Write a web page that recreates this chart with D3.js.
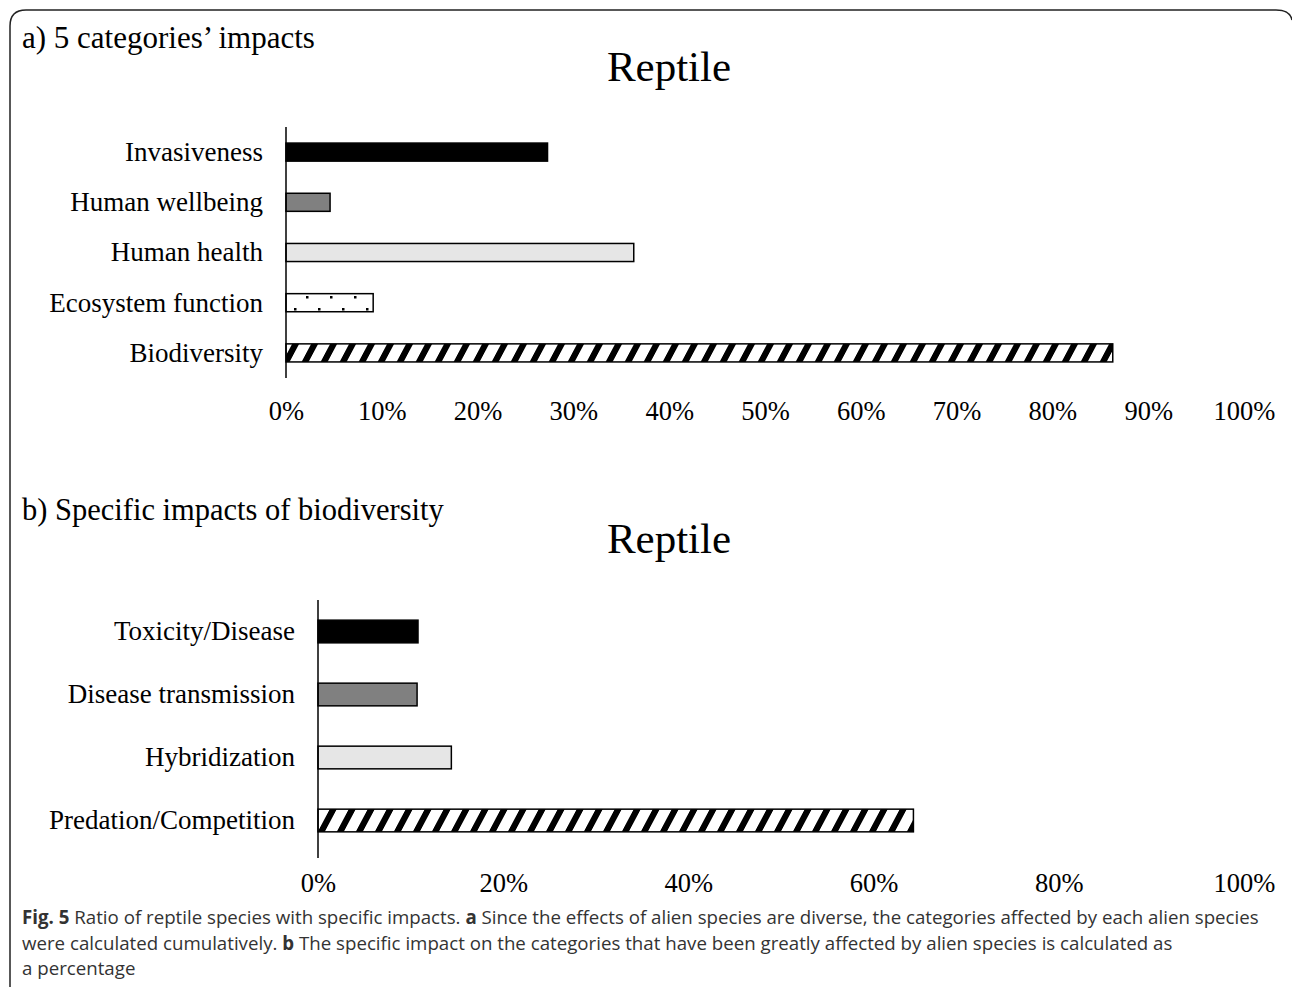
<!DOCTYPE html>
<html><head><meta charset="utf-8">
<script src="https://cdn.jsdelivr.net/npm/d3@7"></script>
<style>body{margin:0;background:#fff}svg{display:block}</style>
</head><body>
<svg id="c" width="1292" height="987"></svg>
<script>
const catsA = ["Invasiveness","Human wellbeing","Human health","Ecosystem function","Biodiversity"];
const valsA = [27.3, 4.6, 36.3, 9.1, 86.3];
const ticksA = [0,10,20,30,40,50,60,70,80,90,100];
const catsB = ["Toxicity/Disease","Disease transmission","Hybridization","Predation/Competition"];
const valsB = [10.8, 10.7, 14.4, 64.3];
const ticksB = [0,20,40,60,80,100];
const fills = ["#000000","#808080","#e6e6e6","url(#dots)","url(#hatch)"];
const fillsB = ["#000000","#808080","#e6e6e6","url(#hatch)"];

const svg = d3.select("#c");
const defs = svg.append("defs");
const hatch = defs.append("pattern").attr("id","hatch").attr("patternUnits","userSpaceOnUse")
  .attr("width",19).attr("height",19).attr("patternTransform","skewX(-28)");
hatch.append("rect").attr("width",19).attr("height",19).attr("fill","#fff");
hatch.append("rect").attr("x",0).attr("width",7).attr("height",19).attr("fill","#000");
const dots = defs.append("pattern").attr("id","dots").attr("patternUnits","userSpaceOnUse")
  .attr("width",24).attr("height",24);
dots.append("rect").attr("width",24).attr("height",24).attr("fill","#fff");
dots.append("rect").attr("x",18).attr("y",8).attr("width",2.5).attr("height",2.5).attr("fill","#000");
dots.append("rect").attr("x",6).attr("y",20).attr("width",2.5).attr("height",2.5).attr("fill","#000");

// frame
svg.append("path").attr("d","M10,987 L10,26 Q10,10 26,10 L1276,10 Q1290,10 1292,20")
  .attr("fill","none").attr("stroke","#222").attr("stroke-width",1.5);

const serif = "'Liberation Serif','Times New Roman',serif";

function chart(cats, vals, ticks, fl, o){
  const g = svg.append("g");
  const x = d3.scaleLinear().domain([0,100]).range([o.x0,1244]);
  const y = d3.scaleBand().domain(cats).range([o.yTop,o.yBot]).paddingInner(o.pad).paddingOuter(o.pad/2);
  g.append("text").attr("x",22).attr("y",o.subY).text(o.sub)
    .attr("font-family",serif).attr("font-size",o.subSize);
  g.append("text").attr("x",669).attr("y",o.titleY).attr("text-anchor","middle").text("Reptile")
    .attr("font-family",serif).attr("font-size",43);
  g.selectAll("rect.bar").data(vals).join("rect").attr("class","bar")
    .attr("x",x(0)).attr("y",(d,i)=>y(cats[i]))
    .attr("width",d=>x(d)-x(0)).attr("height",y.bandwidth())
    .attr("fill",(d,i)=>fl[i]).attr("stroke","#000").attr("stroke-width",1.5);
  g.selectAll("text.cat").data(cats).join("text").attr("class","cat")
    .attr("x",o.x0-23).attr("y",d=>y(d)+y.bandwidth()/2).attr("dy","0.33em")
    .attr("text-anchor","end").text(d=>d).attr("font-family",serif).attr("font-size",27);
  g.append("line").attr("x1",x(0)).attr("x2",x(0)).attr("y1",o.axTop).attr("y2",o.axBot)
    .attr("stroke","#000").attr("stroke-width",1.5);
  const ax = d3.axisBottom(x).tickValues(ticks).tickFormat(d=>d+"%").tickSize(0).tickPadding(0);
  const ag = g.append("g").attr("transform",`translate(0,${o.tickY})`).call(ax);
  ag.select(".domain").remove();
  ag.selectAll("text").attr("font-family",serif).attr("font-size",26.5).attr("fill","#000").attr("dy","0.33em");
}

chart(catsA, valsA, ticksA, fills, {x0:286, yTop:127, yBot:378, pad:0.64, sub:"a) 5 categories’ impacts", subSize:31, subY:48, titleY:81, axTop:127, axBot:378, tickY:411});
chart(catsB, valsB, ticksB, fillsB, {x0:318, yTop:600, yBot:852, pad:0.64, sub:"b) Specific impacts of biodiversity", subSize:30.5, subY:520, titleY:553, axTop:600, axBot:858, tickY:883});

// caption
const cap = svg.append("g").attr("font-family","'Open Sans',sans-serif").attr("font-size",18.7).attr("fill","#333");
const l1 = cap.append("text").attr("x",22).attr("y",924);
l1.append("tspan").attr("font-weight","bold").text("Fig. 5");
l1.append("tspan").text(" Ratio of reptile species with specific impacts. ");
l1.append("tspan").attr("font-weight","bold").text("a");
l1.append("tspan").text(" Since the effects of alien species are diverse, the categories affected by each alien species");
const l2 = cap.append("text").attr("x",22).attr("y",950);
l2.append("tspan").text("were calculated cumulatively. ");
l2.append("tspan").attr("font-weight","bold").text("b");
l2.append("tspan").text(" The specific impact on the categories that have been greatly affected by alien species is calculated as");
cap.append("text").attr("x",22).attr("y",975).text("a percentage");
</script>
</body></html>
